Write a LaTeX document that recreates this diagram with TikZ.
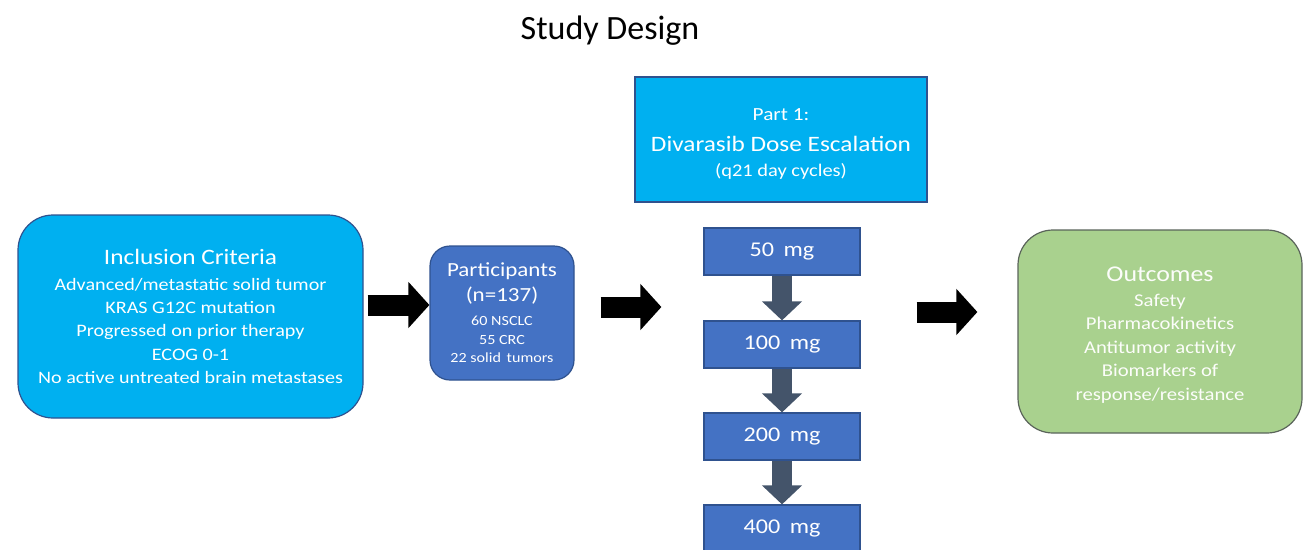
\documentclass[tikz,border=0pt]{standalone}
\usepackage{fontspec}
\setmainfont{Carlito}
\newfontfamily\boxfont{Carlito}[FakeStretch=1.15]
\usetikzlibrary{arrows.meta}
\definecolor{lblue}{RGB}{0,176,240}
\definecolor{mblue}{RGB}{68,114,196}
\definecolor{lgreen}{RGB}{169,209,142}
\definecolor{agray}{RGB}{68,84,106}
\definecolor{bord}{RGB}{47,82,143}
\definecolor{gbord}{RGB}{90,100,90}
\tikzset{
  box/.style={draw=bord, line width=1.2pt, text=white, align=center, inner sep=0pt},
  bigbox/.style={box, fill=lblue, minimum width=345pt, minimum height=203pt, rounded corners=35pt,
     font=\boxfont\fontsize{17.5}{23.3}\selectfont},
  partbox/.style={box, fill=mblue, minimum width=144pt, minimum height=134pt, rounded corners=20pt,
     font=\boxfont\fontsize{14}{18.5}\selectfont},
  headbox/.style={box, fill=lblue, minimum width=292pt, minimum height=125pt},
  headtext/.style={text=white, align=center, inner sep=0pt, font=\boxfont\fontsize{18}{22}\selectfont},
  dosebox/.style={box, fill=mblue, minimum width=156pt, minimum height=47pt,
     font=\boxfont\fontsize{21}{24}\selectfont},
  outbox/.style={draw=gbord, line width=1.2pt, fill=lgreen, inner sep=0pt,
     minimum width=284pt, minimum height=203pt, rounded corners=35pt},
  outtext/.style={text=white!96!lgreen, align=center, inner sep=0pt,
     font=\boxfont\fontsize{18}{23.5}\selectfont},
  blockarrow/.style={draw=black, line width=21pt, -{Triangle[width=45pt,length=21pt]}},
  downarrow/.style={draw=agray, line width=20pt, -{Triangle[width=39pt,length=19pt]}},
}
\begin{document}
\begin{tikzpicture}[x=1pt,y=-1pt]
\useasboundingbox (0,0) rectangle (1304,549);
\node[font=\fontsize{34}{40}\selectfont] (title) at (610,31) {Study Design};
\node[bigbox] (incl) at (190.5,316.5) {{\fontsize{22}{24}\selectfont Inclusion Criteria}\\[2pt]
Advanced/metastatic solid tumor\\ KRAS G12C mutation\\ Progressed on prior therapy\\ ECOG 0-1\\ No active untreated brain metastases};
\node[partbox] (part) at (502,313) {{\fontsize{20}{26}\selectfont Participants}\\[6pt]{\fontsize{20}{26}\selectfont (n=137)}\\[6pt]
60 NSCLC\\ 55 CRC\\ 22 solid\hspace{2pt} tumors};
\node[headbox] (head) at (781,139.5) {};
\node[headtext] (headtxt) at ([yshift=-4.5pt]head.center) {{\fontsize{18.5}{22}\selectfont Part 1:}\\[9pt]{\fontsize{22}{26}\selectfont Divarasib Dose Escalation}\\[3pt]{\fontsize{17.8}{20}\selectfont (q21 day cycles)}};
\node[dosebox] (d50) at (782,251.5) {50\hspace{4pt} mg};
\node[dosebox] (d100) at (782,344.5) {100\hspace{4pt} mg};
\node[dosebox] (d200) at (782,436.5) {200\hspace{4pt} mg};
\node[dosebox] (d400) at (782,528.5) {400\hspace{4pt} mg};
\node[outbox] (out) at (1160,331.5) {};
\node[outtext] (outtxt) at ([yshift=-3.5pt]out.center) {{\fontsize{22.5}{24}\selectfont Outcomes}\\[1pt]
Safety\\ Pharmacokinetics\\ Antitumor activity\\ Biomarkers of\\ response/resistance};
\draw[downarrow] (d50.south) -- (d100.north);
\draw[downarrow] (d100.south) -- (d200.north);
\draw[downarrow] (d200.south) -- (d400.north);
\coordinate (a1s) at ([yshift=11.5pt]incl.east);
\draw[blockarrow, shorten <=4pt] (a1s) -- (a1s -| part.west);
\coordinate (a2s) at ([yshift=6pt]part.east);
\draw[blockarrow, shorten <=26pt, shorten >=42pt] (a2s) -- (a2s -| d50.west);
\coordinate (a3e) at ([yshift=19.5pt]out.west);
\draw[blockarrow, shorten <=56pt, shorten >=40pt] (a3e -| d50.east) -- (a3e);
\end{tikzpicture}
\end{document}
